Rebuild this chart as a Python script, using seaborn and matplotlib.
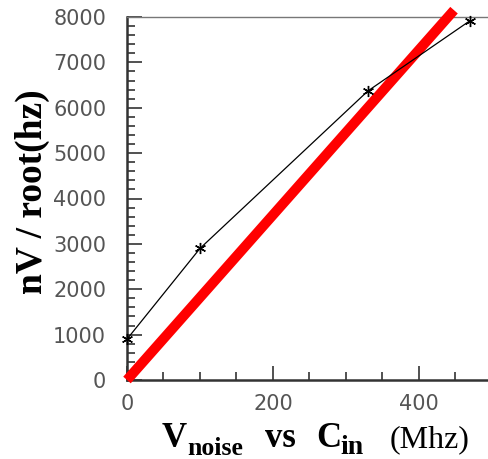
import matplotlib
matplotlib.use("Agg")
import matplotlib.pyplot as plt
import seaborn as sns
import pandas as pd
from matplotlib.ticker import MultipleLocator

# data
cin_mhz = [0, 100, 330, 470]
noise_nv = [900, 2900, 6370, 7920]
fit_x = [0, 448]
fit_y = [0, 8150]
xticks = [0, 200, 400]
yticks = [0, 1000, 2000, 3000, 4000, 5000, 6000, 7000, 8000]

sns.set_style("ticks")
plt.rcParams["font.family"] = ["DejaVu Sans"]

W, H = 488, 459
fig = plt.figure(figsize=(W / 100, H / 100), dpi=100)
ax = fig.add_axes([127 / W, 79 / H, 365 / W, 363 / H])

df_meas = pd.DataFrame({"x": cin_mhz, "y": noise_nv})
df_fit = pd.DataFrame({"x": fit_x, "y": fit_y})

sns.lineplot(data=df_fit, x="x", y="y", ax=ax, color="#ff0000", linewidth=7.2,
             sort=False, estimator=None, clip_on=False, solid_capstyle="butt", zorder=3)
sns.lineplot(data=df_meas, x="x", y="y", ax=ax, color="black", linewidth=0.9,
             sort=False, estimator=None, marker=(6, 2, 0), markersize=8,
             markeredgecolor="black", markeredgewidth=1.0, clip_on=False, zorder=4)

ax.set_xlim(0, 500)
ax.set_ylim(0, 8000)
ax.set_xticks(xticks)
ax.set_yticks(yticks)
ax.set_xticklabels([str(v) for v in xticks])
ax.set_yticklabels([str(v) for v in yticks])
ax.xaxis.set_minor_locator(MultipleLocator(50))
ax.yaxis.set_minor_locator(MultipleLocator(200))
ax.tick_params(axis="y", which="major", direction="in", length=11, width=1.2,
               color="#333333", labelsize=15, labelcolor="#555555", pad=15)
ax.tick_params(axis="y", which="minor", direction="in", length=5.8, width=1.2, color="#333333")
ax.tick_params(axis="x", which="major", direction="in", length=10, width=1.2,
               color="#333333", labelsize=15, labelcolor="#555555", pad=10)
ax.tick_params(axis="x", which="minor", direction="in", length=5.8, width=1.2, color="#333333")
ax.set_xlabel("")
ax.set_ylabel("")

for s in ["left", "bottom"]:
    ax.spines[s].set_color("#333333")
    ax.spines[s].set_linewidth(1.8)
ax.spines["top"].set_visible(True)
ax.spines["top"].set_color("#777777")
ax.spines["top"].set_linewidth(1.0)
ax.spines["right"].set_visible(False)

serif = "Liberation Serif"
def ft(px, py, s, size, weight="bold"):
    fig.text(px / W, (H - py) / H, s, fontsize=size, fontweight=weight,
             family=serif, ha="left", va="baseline", color="black")

ft(162, 447, "V", 25)
ft(187, 455, "noise", 18.5)
ft(265, 447, "vs", 25)
ft(316, 447, "C", 25)
ft(340, 454, "in", 20)
ft(390, 447, "(Mhz)", 23, weight="normal")

fig.text(32 / W, (H - 192) / H, "nV / root(hz)", rotation=90, fontsize=27,
         fontweight="bold", family=serif, ha="center", va="center", color="black")

fig.savefig("out.png", dpi=100)
